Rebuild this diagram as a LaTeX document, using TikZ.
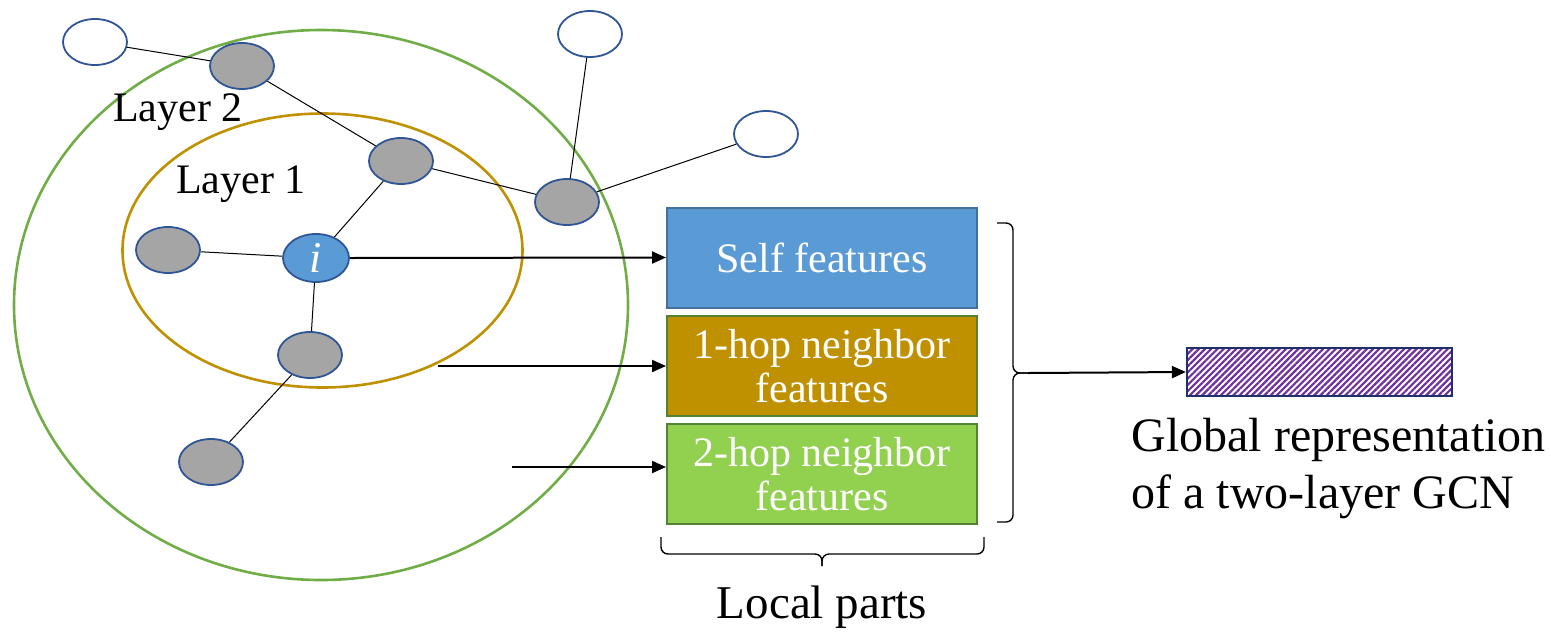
\documentclass[tikz,border=0pt]{standalone}
\usepackage{fontspec}
\setmainfont{Liberation Serif}
\usetikzlibrary{shapes.geometric,arrows.meta,patterns.meta}

\definecolor{nodeedge}{HTML}{2F5597}
\definecolor{nodegray}{HTML}{A5A5A5}
\definecolor{selfblue}{HTML}{5B9BD5}
\definecolor{selfedge}{HTML}{41719C}
\definecolor{gold}{HTML}{BF9000}
\definecolor{lightgreen}{HTML}{92D050}
\definecolor{darkgreen}{HTML}{548235}
\definecolor{ringgreen}{HTML}{70AD47}
\definecolor{hatch}{HTML}{7030A0}
\definecolor{navy}{HTML}{1F2F6B}

\tikzset{
  vtx/.style={ellipse, draw=nodeedge, line width=0.9pt, minimum width=32pt, minimum height=23pt, inner sep=0pt},
  gvtx/.style={vtx, fill=nodegray},
  wvtx/.style={vtx, fill=white},
  link/.style={line width=0.5pt, black},
  ring/.style={line width=1.3pt},
  featbox/.style={rectangle, line width=1pt, minimum width=155pt, minimum height=50pt, inner sep=0pt, align=center, text=white, font=\fontsize{21}{22}\selectfont},
  feed/.style={line width=1pt, -{Triangle[length=7pt,width=6pt]}},
  lbl/.style={font=\fontsize{21}{24}\selectfont, inner sep=0pt},
  bracket/.style={line width=0.7pt, rounded corners=3.5pt},
}

\begin{document}
\begin{tikzpicture}[x=0.5pt, y=-0.5pt]
  \useasboundingbox (0,0) rectangle (1551,633);

  % receptive fields of the two layers
  \draw[ring, ringgreen] (321,305) ellipse [x radius=307, y radius=275];
  \draw[ring, gold] (322.5,250.5) ellipse [x radius=200, y radius=137];

  \node[lbl] (l2) at (178,112) {Layer 2};
  \node[lbl] (l1) at (241,184) {Layer 1};

  % graph vertices
  \node[wvtx] (w1) at (95,42) {};
  \node[wvtx] (w2) at (590,34) {};
  \node[wvtx] (w3) at (766,134) {};
  \node[gvtx] (g1) at (242,66) {};
  \node[gvtx] (g2) at (401,161) {};
  \node[gvtx] (g3) at (567,202) {};
  \node[gvtx] (g4) at (168,250) {};
  \node[gvtx] (g5) at (310,355) {};
  \node[gvtx] (g6) at (211,462) {};
  \node[vtx, fill=selfblue, minimum width=33pt, minimum height=24pt, text=white,
        font=\fontsize{22}{22}\selectfont\itshape] (ci) at (316,258) {i};

  % graph edges
  \draw[link] (w1) -- (g1);
  \draw[link] (g1) -- (g2);
  \draw[link] (g2) -- (g3);
  \draw[link] (g3) -- (w2);
  \draw[link] (g3) -- (w3);
  \draw[link] (g2) -- (ci);
  \draw[link] (g4) -- (ci);
  \draw[link] (ci) -- (g5);
  \draw[link] (g5) -- (g6);

  % local feature blocks
  \node[featbox, fill=selfblue, draw=selfedge] (self) at (822,257.5) {Self features};
  \node[featbox, fill=gold, draw=darkgreen] (hop1) at (822,366) {1-hop neighbor\\features};
  \node[featbox, fill=lightgreen, draw=darkgreen] (hop2) at (822,474) {2-hop neighbor\\features};

  \coordinate (s1) at (438,366);
  \coordinate (s2) at (512,467);
  \draw[feed] (ci.east) -- (self.west);
  \draw[feed] (s1) -- (hop1.west);
  \draw[feed] (s2) -- (hop2.west |- s2);

  % brace gathering the three blocks
  \coordinate (bt) at (1028,373);
  \draw[bracket] (997,223) -- (1013,223) -- (1013,373) -- (bt);
  \draw[bracket] (997,522) -- (1013,522) -- (1013,373) -- (bt);

  % brace under the blocks
  \draw[bracket] (661,537) -- (661,554) -- (822,554) -- (822,566);
  \draw[bracket] (984,537) -- (984,554) -- (822,554) -- (822,566);
  \node[lbl, font=\fontsize{23.5}{28}\selectfont] (local) at (822,607) {Local parts};

  % global representation
  \node[rectangle, draw=navy, line width=1.2pt, minimum width=132.5pt, minimum height=24pt,
        inner sep=0pt, pattern={Lines[angle=45,distance=2.2pt,line width=1.1pt]},
        pattern color=hatch] (glob) at (1319.5,372) {};
  \draw[feed] (bt) -- (glob.west);

  \node[lbl, anchor=west, align=left, font=\fontsize{24}{28.5}\selectfont] (gtxt) at (1131,469)
    {Global representation\\of a two-layer GCN};
\end{tikzpicture}
\end{document}
